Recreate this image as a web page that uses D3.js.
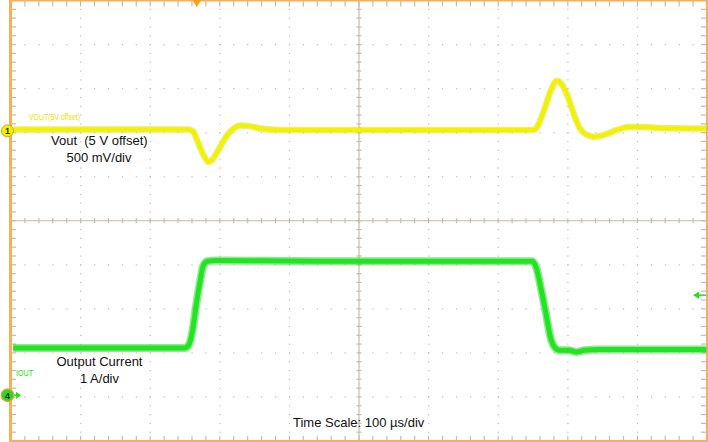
<!DOCTYPE html>
<html><head><meta charset="utf-8">
<script src="https://cdn.jsdelivr.net/npm/d3@7"></script>
<style>html,body{margin:0;padding:0;background:#fff;}svg{display:block;font-family:"Liberation Sans",Arial,sans-serif;}</style>
</head><body>
<svg id="c" width="708" height="442"></svg>
<script>
// Time axis (µs), 100 µs/div, 10 divisions
const timeDomain = [-500, 500];
const divDomain = [-5, 5];
// Channel 1: Vout deviation from 5 V offset (mV), 500 mV/div
const ch1Pos = 2.04, ch1Scale = 500;
const voutTime = [-497,-245,-239,-231,-222,-216,-211,-202,-191,-179,-170,-159,-142,-113,-85,59,251,256,266,276,284,291,299,309,317,325,338,352,371,388,410,431,499];
const voutMv   = [17,17,0,-136,-295,-352,-329,-216,-68,34,62,57,28,11,11,11,11,45,238,465,568,533,409,182,34,-34,-68,-45,11,45,45,34,28];
// Channel 4: Output current (A), 1 A/div
const ch4Pos = -3.96, ch4Scale = 1;
const ioutTime = [-497,-251,-245,-239,-234,-228,-224,-218,-206,-60,249,255,262,269,275,281,288,302,312,324,345,499];
const ioutA    = [1.07,1.07,1.13,1.48,2.04,2.61,2.93,3.04,3.06,3.04,3.04,2.88,2.38,1.82,1.32,1.09,1.02,1.02,0.98,1.02,1.04,1.04];
const triggerTime = -233;
const rightMarkerDiv = -1.69; // right-side level marker (div position)

const svg = d3.select("#c");
const x = d3.scaleLinear().domain(timeDomain).range([11, 707]);
const y = d3.scaleLinear().domain(divDomain).range([441, 0.5]);
const y1 = v => y(ch1Pos + v / ch1Scale);
const y4 = a => y(ch4Pos + a / ch4Scale);

const gridCol = "#c4bca8", dotCol = "#bdbdbd";
const g = svg.append("g");
// dotted grid
const majorX = d3.range(-400, 500, 100).filter(t => t !== 0);
const majorY = d3.range(-4, 5, 1).filter(d => d !== 0);
const minorX = d3.range(-500, 500.1, 20);
const minorY = d3.range(-5, 5.01, 0.2);
majorX.forEach(t => minorY.forEach(d => g.append("rect").attr("x", x(t)-0.5).attr("y", y(d)-0.5).attr("width",1.2).attr("height",1.2).attr("fill",dotCol)));
majorY.forEach(d => minorX.forEach(t => g.append("rect").attr("x", x(t)-0.5).attr("y", y(d)-0.5).attr("width",1.2).attr("height",1.2).attr("fill",dotCol)));
// center cross
g.append("line").attr("x1", x(-500)).attr("x2", x(500)).attr("y1", y(0)).attr("y2", y(0)).attr("stroke", gridCol).attr("stroke-width",1.2);
g.append("line").attr("x1", x(0)).attr("x2", x(0)).attr("y1", y(-5)).attr("y2", y(5)).attr("stroke", gridCol).attr("stroke-width",1.2);
minorX.forEach(t => g.append("line").attr("x1", x(t)).attr("x2", x(t)).attr("y1", y(0)-2.5).attr("y2", y(0)+2.5).attr("stroke", gridCol).attr("stroke-width",1.2));
minorY.forEach(d => g.append("line").attr("x1", x(0)-2.5).attr("x2", x(0)+2.5).attr("y1", y(d)).attr("y2", y(d)).attr("stroke", gridCol).attr("stroke-width",1.2));
// border ticks
minorY.forEach(d => {
  g.append("line").attr("x1", x(-500)).attr("x2", x(-500)+5).attr("y1", y(d)).attr("y2", y(d)).attr("stroke", gridCol).attr("stroke-width",1.2);
  g.append("line").attr("x1", x(500)-6).attr("x2", x(500)).attr("y1", y(d)).attr("y2", y(d)).attr("stroke", gridCol).attr("stroke-width",1.2);
});
minorX.forEach(t => {
  g.append("line").attr("x1", x(t)).attr("x2", x(t)).attr("y1", y(-5)).attr("y2", y(-5)-5).attr("stroke", gridCol).attr("stroke-width",1.2);
  g.append("line").attr("x1", x(t)).attr("x2", x(t)).attr("y1", y(5)).attr("y2", y(5)+6).attr("stroke", gridCol).attr("stroke-width",1.2);
});
// border
svg.append("rect").attr("x", x(-500)-0.5).attr("y", y(5)-0.5).attr("width", x(500)-x(-500)+1).attr("height", y(-5)-y(5)+1)
  .attr("fill","none").attr("stroke","#f6b158").attr("stroke-width",3);

// traces
const line1 = d3.line().x((d,i)=>x(voutTime[i])).y(d=>y1(d)).curve(d3.curveMonotoneX);
const line4 = d3.line().x((d,i)=>x(ioutTime[i])).y(d=>y4(d)).curve(d3.curveMonotoneX);
svg.append("path").attr("d", line1(voutMv)).attr("fill","none").attr("stroke","#dede00").attr("stroke-width",6.5).attr("stroke-opacity",0.55);
svg.append("path").attr("d", line1(voutMv)).attr("fill","none").attr("stroke","#f2f200").attr("stroke-width",4);
svg.append("path").attr("d", line4(ioutA)).attr("fill","none").attr("stroke","#1fd81f").attr("stroke-width",8).attr("stroke-opacity",0.5);
svg.append("path").attr("d", line4(ioutA)).attr("fill","none").attr("stroke","#22e422").attr("stroke-width",5);

// trigger marker
const tx = x(triggerTime);
svg.append("path").attr("d", `M${tx-4.5},0 L${tx+4.5},0 L${tx},7 Z`).attr("fill","#f5a020");

// channel markers
const m1 = svg.append("g").attr("transform", `translate(7.5,${y(ch1Pos)})`);
m1.append("circle").attr("r",6).attr("fill","#f2f200").attr("stroke","#b8b800").attr("stroke-width",1);
m1.append("text").attr("text-anchor","middle").attr("dy","3.3").attr("font-size",9).attr("font-weight","bold").attr("fill","#333").text("1");
const m4y = y(ch4Pos);
svg.append("path").attr("d", `M12,${m4y} L20,${m4y}`).attr("stroke","#22dd22").attr("stroke-width",1.5);
svg.append("path").attr("d", `M21,${m4y} L16,${m4y-3.5} L16,${m4y+3.5} Z`).attr("fill","#22dd22");
const m4 = svg.append("g").attr("transform", `translate(7.5,${m4y})`);
m4.append("circle").attr("r",6.3).attr("fill","#22dd22").attr("stroke","#f0a030").attr("stroke-width",1.2);
m4.append("text").attr("text-anchor","middle").attr("dy","3.3").attr("font-size",9).attr("font-weight","bold").attr("fill","#222").text("4");
// right level arrow
const ray = y(rightMarkerDiv);
svg.append("path").attr("d", `M706,${ray} L699,${ray}`).attr("stroke","#22dd22").attr("stroke-width",1.5);
svg.append("path").attr("d", `M693,${ray} L699,${ray-3.5} L699,${ray+3.5} Z`).attr("fill","#22dd22");

// texts
svg.append("text").attr("x",29).attr("y",120).attr("font-size",9.5).attr("fill","#e6e600").attr("textLength",51).attr("lengthAdjust","spacingAndGlyphs").text("VOUT(5V offset)");
svg.append("text").attr("x",16).attr("y",376).attr("font-size",9.5).attr("fill","#22dd22").attr("textLength",17).attr("lengthAdjust","spacingAndGlyphs").text("IOUT");
svg.append("text").attr("x",51).attr("y",145).attr("font-size",13).attr("fill","#111").style("white-space","pre").text("Vout  (5 V offset)");
svg.append("text").attr("x",99).attr("y",162).attr("font-size",13).attr("fill","#111").attr("text-anchor","middle").text("500 mV/div");
svg.append("text").attr("x",99.5).attr("y",366).attr("font-size",13).attr("fill","#111").attr("text-anchor","middle").text("Output Current");
svg.append("text").attr("x",99.5).attr("y",383).attr("font-size",13).attr("fill","#111").attr("text-anchor","middle").text("1 A/div");
svg.append("text").attr("x",293).attr("y",427).attr("font-size",13).attr("fill","#111").text("Time Scale: 100 µs/div");
</script>
</body></html>
